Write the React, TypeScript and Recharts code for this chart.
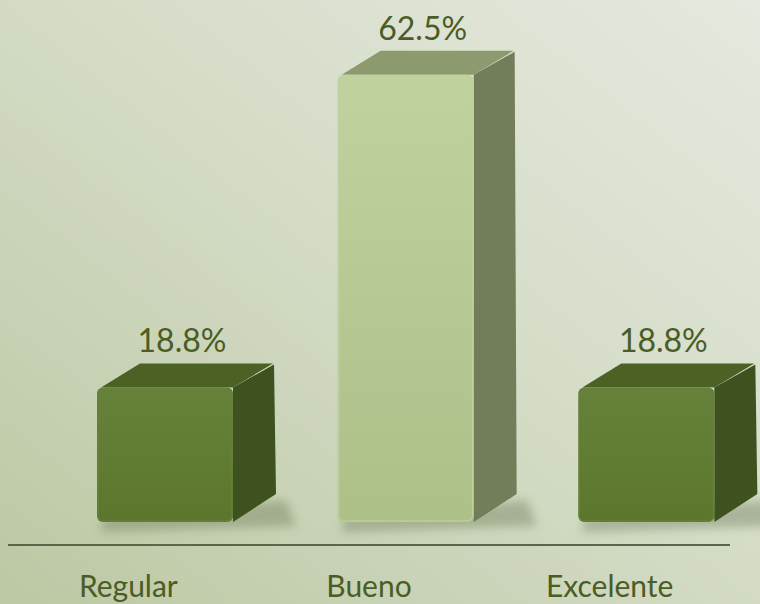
import { Bar, BarChart, Customized, LabelList, XAxis, YAxis } from "recharts";

const categories = ["Regular", "Bueno", "Excelente"];
const percentages = [18.8, 62.5, 18.8];
const valueLabels = ["18.8%", "62.5%", "18.8%"];

const data = categories.map((name, i) => ({
  name,
  value: percentages[i],
  label: valueLabels[i],
}));

const DX = 43;
const DY = 24;
const FONT = "Lato, 'Open Sans', sans-serif";
const TEXT = "#4b5c25";

const palettes = [
  { front: "#5c762d", light: "#66823a", top: "#4b6224", side: "#3e5220" },
  { front: "#adc088", light: "#c0d29e", top: "#8d9a6e", side: "#727e5a" },
  { front: "#5c762d", light: "#66823a", top: "#4b6224", side: "#3e5220" },
];

const CubeBar = (props: any) => {
  const { x, y, width, height, index } = props;
  const c = palettes[index];
  const r = x + width;
  const b = y + height;
  return (
    <g>
      <path
        d={`M${x + 6},${b - 4} L${r + DX + 10},${b - DY + 2} L${r + DX + 20},${b + 4} L${x + 4},${b + 10} Z`}
        fill="#5c6a44"
        opacity={0.35}
        filter="url(#cubeShadow)"
      />
      <polygon
        points={`${x + 4},${y} ${x + DX},${y - DY} ${r + DX - 3},${y - DY} ${r},${y}`}
        fill={c.top}
      />
      <polygon
        points={`${r},${y} ${r + DX - 2},${y - DY + 1} ${r + DX},${b - DY - 4} ${r},${b}`}
        fill={c.side}
      />
      <rect x={x} y={y} width={width} height={height} rx={6} fill={`url(#front${index})`} />
      <rect
        x={x + 1}
        y={y + 1}
        width={width - 2}
        height={height - 2}
        rx={5}
        fill="none"
        stroke={c.light}
        strokeWidth={1.5}
        opacity={0.8}
      />
    </g>
  );
};

const ValueLabel = (props: any) => {
  const { x, y, width, value } = props;
  return (
    <text
      x={x + width / 2 + 17}
      y={y - DY - 11}
      textAnchor="middle"
      fontFamily={FONT}
      fontSize={32}
      fill={TEXT}
    >
      {value}
    </text>
  );
};

const CategoryTick = (props: any) => {
  const { x, y, payload } = props;
  return (
    <text
      x={x - 37}
      y={y + 67}
      textAnchor="middle"
      fontFamily={FONT}
      fontSize={30}
      fill={TEXT}
    >
      {payload.value}
    </text>
  );
};

const Extras = () => (
  <g>
    <defs>
      <filter id="cubeShadow" x="-20%" y="-200%" width="140%" height="500%">
        <feGaussianBlur stdDeviation="5" />
      </filter>
      {palettes.map((c, i) => (
        <linearGradient key={i} id={`front${i}`} x1="0" y1="0" x2="0" y2="1">
          <stop offset="0%" stopColor={c.light} />
          <stop offset="100%" stopColor={c.front} />
        </linearGradient>
      ))}
    </defs>
    <line x1={8} y1={545} x2={730} y2={545} stroke="#5b6549" strokeWidth={2} />
  </g>
);

export default function App() {
  return (
    <div
      style={{
        position: "absolute",
        left: 0,
        top: 0,
        width: 760,
        height: 604,
        overflow: "hidden",
        background: "linear-gradient(to top right, #bcc8a3 0%, #d3dbc5 50%, #e6e9df 100%)",
      }}
    >
      <BarChart
        width={770}
        height={604}
        data={data}
        margin={{ top: 21, right: 3, bottom: 0, left: 45 }}
      >
        <Customized component={Extras} />
        <XAxis
          dataKey="name"
          axisLine={false}
          tickLine={false}
          tick={<CategoryTick />}
          height={82}
        />
        <YAxis hide domain={[0, 70]} />
        <Bar
          dataKey="value"
          barSize={136}
          shape={<CubeBar />}
          isAnimationActive={false}
        >
          <LabelList dataKey="label" content={<ValueLabel />} />
        </Bar>
      </BarChart>
    </div>
  );
}
